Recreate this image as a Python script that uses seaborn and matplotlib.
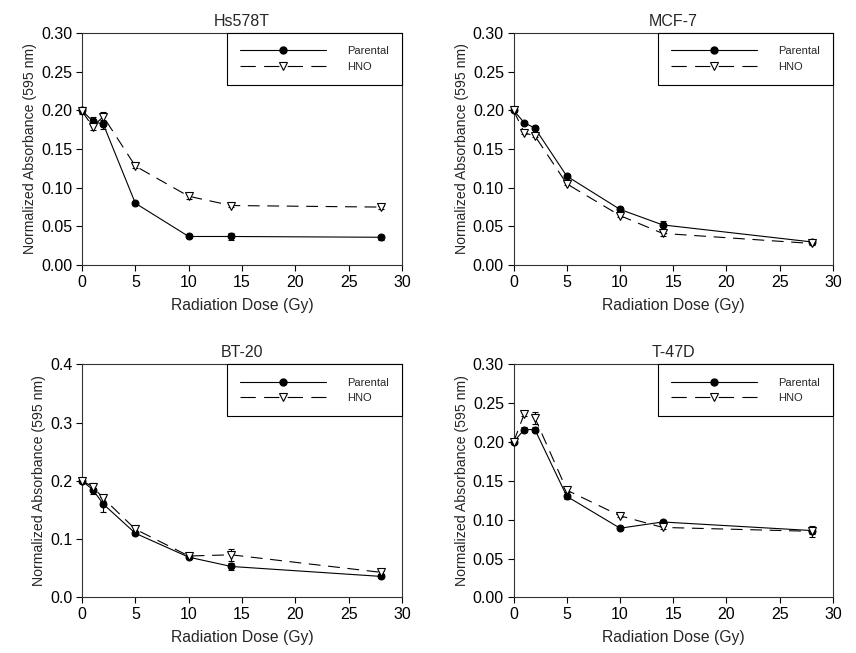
import numpy as np
import pandas as pd
import seaborn as sns
import matplotlib
matplotlib.use("Agg")
import matplotlib.pyplot as plt
from matplotlib.lines import Line2D

# Radiation doses (Gy)
dose = [0, 1, 2, 5, 10, 14, 28]

# Cell lines shown in the four panels
cell_lines = ["Hs578T", "MCF-7", "BT-20", "T-47D"]

# Normalized absorbance (595 nm), mean values
hs578t_parental = [0.200, 0.186, 0.182, 0.080, 0.037, 0.037, 0.036]
hs578t_hno      = [0.199, 0.179, 0.192, 0.128, 0.089, 0.077, 0.075]
mcf7_parental   = [0.200, 0.184, 0.177, 0.115, 0.072, 0.052, 0.030]
mcf7_hno        = [0.200, 0.171, 0.167, 0.105, 0.064, 0.041, 0.028]
bt20_parental   = [0.200, 0.185, 0.160, 0.110, 0.069, 0.053, 0.036]
bt20_hno        = [0.200, 0.190, 0.170, 0.117, 0.071, 0.073, 0.043]
t47d_parental   = [0.200, 0.216, 0.216, 0.130, 0.089, 0.097, 0.086]
t47d_hno        = [0.200, 0.236, 0.231, 0.138, 0.105, 0.090, 0.085]

# Standard errors
hs578t_parental_err = [0.004, 0.005, 0.006, 0.002, 0.002, 0.004, 0.003]
hs578t_hno_err      = [0.004, 0.004, 0.006, 0.003, 0.003, 0.002, 0.002]
mcf7_parental_err   = [0.002, 0.002, 0.002, 0.002, 0.002, 0.005, 0.002]
mcf7_hno_err        = [0.002, 0.002, 0.002, 0.002, 0.002, 0.004, 0.002]
bt20_parental_err   = [0.003, 0.007, 0.013, 0.003, 0.003, 0.006, 0.003]
bt20_hno_err        = [0.003, 0.007, 0.005, 0.003, 0.003, 0.010, 0.003]
t47d_parental_err   = [0.002, 0.003, 0.003, 0.003, 0.002, 0.002, 0.005]
t47d_hno_err        = [0.002, 0.002, 0.008, 0.003, 0.002, 0.002, 0.007]

y_ticks = [
    [0.00, 0.05, 0.10, 0.15, 0.20, 0.25, 0.30],
    [0.00, 0.05, 0.10, 0.15, 0.20, 0.25, 0.30],
    [0.0, 0.1, 0.2, 0.3, 0.4],
    [0.00, 0.05, 0.10, 0.15, 0.20, 0.25, 0.30],
]
y_fmt = ["%.2f", "%.2f", "%.1f", "%.2f"]
x_ticks = [0, 5, 10, 15, 20, 25, 30]

panels = [
    (hs578t_parental, hs578t_parental_err, hs578t_hno, hs578t_hno_err),
    (mcf7_parental, mcf7_parental_err, mcf7_hno, mcf7_hno_err),
    (bt20_parental, bt20_parental_err, bt20_hno, bt20_hno_err),
    (t47d_parental, t47d_parental_err, t47d_hno, t47d_hno_err),
]

sns.set_style("ticks")
plt.rcParams["font.family"] = ["Liberation Sans", "DejaVu Sans"]
plt.rcParams["lines.scale_dashes"] = False

fig = plt.figure(figsize=(8.56, 6.53), dpi=100)
boxes = [
    [0.0958, 0.594, 0.3738, 0.3555],
    [0.6000, 0.594, 0.3730, 0.3555],
    [0.0958, 0.0852, 0.3738, 0.3570],
    [0.6000, 0.0852, 0.3730, 0.3570],
]

dash = (0, (8.5, 5.5))

for i, (name, (par, par_err, hno, hno_err)) in enumerate(zip(cell_lines, panels)):
    ax = fig.add_axes(boxes[i])
    df = pd.DataFrame({"dose": dose, "Parental": par, "HNO": hno})

    for vals, errs in ((par, par_err), (hno, hno_err)):
        eb = ax.errorbar(dose, vals, yerr=errs, fmt="none", ecolor="black",
                         elinewidth=0.8, capsize=2.5, capthick=0.8, zorder=2)
        for art in eb.lines[1] + eb.lines[2]:
            art.set_clip_on(False)
        for art in eb.lines[2]:
            art.set_clip_on(False)

    sns.lineplot(data=df, x="dose", y="Parental", ax=ax, color="black",
                 linewidth=0.8, marker="o", markersize=5,
                 markerfacecolor="black", markeredgecolor="black",
                 sort=False, errorbar=None, zorder=3, clip_on=False)
    sns.lineplot(data=df, x="dose", y="HNO", ax=ax, color="black",
                 linewidth=0.8, linestyle=dash, marker="v", markersize=6,
                 markerfacecolor="white", markeredgecolor="black",
                 markeredgewidth=0.8, sort=False, errorbar=None, zorder=4,
                 clip_on=False)

    ax.set_xlim(0, 30)
    ax.set_ylim(y_ticks[i][0], y_ticks[i][-1])
    ax.set_xticks(x_ticks)
    ax.set_yticks(y_ticks[i])
    ax.set_yticklabels([y_fmt[i] % v for v in y_ticks[i]])
    ax.tick_params(axis="both", direction="out", length=4, width=0.8,
                   labelsize=11.5, pad=3, colors="black")
    for sp in ax.spines.values():
        sp.set_visible(True)
        sp.set_linewidth(0.8)
        sp.set_color("#333333")
    ax.set_title(name, fontsize=11.5, pad=5)
    ax.set_xlabel("Radiation Dose (Gy)", fontsize=11.3, labelpad=6)
    ax.set_ylabel("Normalized Absorbance (595 nm)", fontsize=10.2, labelpad=3)

    handles = [
        Line2D([], [], color="black", linewidth=0.8, marker="o", markersize=5),
        Line2D([], [], color="black", linewidth=0.8, linestyle=(0, (11, 6)),
               marker="v", markersize=6, markerfacecolor="white",
               markeredgewidth=0.8),
    ]
    leg = ax.legend(handles, ["Parental", "HNO"], loc="upper right",
                    bbox_to_anchor=(1.0, 1.0), borderaxespad=0,
                    fontsize=8, handlelength=7.7, handletextpad=1.9,
                    labelspacing=0.5, borderpad=1.2, numpoints=1,
                    fancybox=False, framealpha=1, edgecolor="black")
    leg.get_frame().set_linewidth(0.8)
    leg.set_zorder(10)

fig.savefig("out.png", dpi=100)
